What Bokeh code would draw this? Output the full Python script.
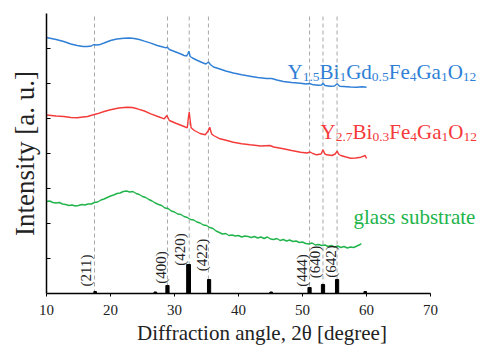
import math
from bokeh.plotting import figure
from bokeh.models import Label, FixedTicker
from bokeh.core.properties import value
from bokeh.embed import file_html
from bokeh.resources import INLINE

# ---------------- data ----------------
blue_x = [10.0, 11.5, 12.7, 13.8, 14.8, 15.7, 16.4, 17.0, 17.4, 17.7, 18.2, 19.0, 20.0, 21.0, 22.1, 23.0,
          23.7, 24.5, 25.3, 26.3, 27.3, 28.2, 28.65, 28.85, 29.2, 30.0, 31.0, 31.5, 31.9, 32.1, 32.25,
          32.45, 32.8, 33.6, 34.3, 34.9, 35.3, 35.6, 36.1, 37.1, 38.0, 39.2, 40.5, 41.8, 43.0, 44.4,
          45.2, 46.0, 47.0, 48.3, 49.7, 50.5, 51.1, 51.7, 52.5, 53.0, 53.2, 53.5, 54.35, 55.0, 55.4,
          55.8, 56.4, 57.5, 58.5, 59.3, 60.0]
blue_y = [256, 254, 252, 249.5, 248, 247, 247, 247.5, 249, 248.5, 248.7, 250.5, 253, 254.5, 255.3, 255.5,
          255, 254, 252.3, 250.3, 248, 246.5, 245.7, 246.5, 244, 242, 239.5, 238, 237.5, 240, 242.3,
          237, 235.5, 233, 231, 229.5, 231.5, 229, 226.5, 224.5, 222.5, 220.5, 218.7, 217.3, 216, 215,
          215, 213.5, 212, 211, 210.3, 209.5, 210, 208.7, 208.2, 208.5, 210.3, 208, 207.3, 207.5, 209.7,
          207.2, 207, 206.5, 206.3, 206.8, 206.3]

red_x = [10.0, 11.5, 12.7, 13.8, 14.8, 15.7, 16.4, 17.2, 17.9, 19.0, 20.0, 21.3, 22.6, 23.4, 24.2, 25.3,
         26.3, 27.4, 28.4, 28.8, 29.2, 30.3, 31.5, 32.0, 32.15, 32.3, 32.45, 32.6, 33.1, 34.0, 34.8,
         35.2, 35.5, 35.8, 36.1, 37.1, 38.2, 39.2, 40.5, 41.8, 43.5, 44.9, 45.5, 47.0, 48.3, 49.7,
         50.7, 51.2, 51.6, 52.2, 52.9, 53.2, 53.5, 53.8, 54.6, 55.1, 55.4, 55.7, 56.0, 56.8, 57.5,
         58.3, 59.1, 59.6, 59.8, 60.0]
red_y = [178.5, 177.5, 177, 176, 175.7, 176.5, 177, 178.5, 179.7, 182, 183.7, 185.5, 186.3, 186, 184.7, 182.5,
         179.7, 177, 174.7, 178, 173, 170, 167, 165.7, 175, 181.3, 173, 165.7, 163, 160, 158.7,
         162, 166.3, 159.5, 158, 154.7, 153, 151.3, 149.7, 148.7, 147.5, 148, 146.5, 144.7, 143, 141.3,
         140.5, 141.5, 140, 138.7, 139.5, 143.7, 139.5, 138.7, 138, 139.5, 142.3, 139, 138, 136.5, 135.3,
         135.5, 136.3, 137.5, 138, 135]

green_x = [10.0, 10.5, 11.0, 11.5, 12.0, 12.5, 13.0, 13.5, 14.0, 14.5, 15.0, 15.5, 16.0, 16.5, 17.0, 17.5,
           18.0, 18.5, 19.0, 19.5, 20.0, 20.5, 21.0, 21.5, 22.0, 22.5, 23.0, 23.5, 24.0, 24.5, 25.0, 25.5,
           26.0, 26.5, 27.0, 27.5, 28.0, 28.5, 29.0, 29.5, 30.0, 30.5, 31.0, 31.5, 32.0, 32.5, 33.0, 33.5,
           34.0, 34.5, 35.0, 35.5, 36.0, 36.5, 37.0, 37.5, 38.0, 38.5, 39.0, 39.5, 40.0, 40.5, 41.0, 41.5,
           42.0, 42.5, 43.0, 43.5, 44.0, 44.5, 45.0, 45.5, 46.0, 46.5, 47.0, 47.5, 48.0, 48.5, 49.0, 49.5,
           50.0, 50.5, 51.0, 51.5, 52.0, 52.5, 53.0, 53.5, 54.0, 54.5, 55.0, 55.5, 56.0, 56.5, 57.0, 57.5,
           58.0, 58.5, 59.0, 59.2]
green_y = [92, 92.5, 91, 90.5, 91, 89.5, 89, 88, 88.5, 87.5, 88, 89, 88.5, 89.5, 89.5, 91,
           91.5, 93.5, 94.5, 96, 97.5, 98.5, 100, 100.5, 102, 102.5, 101.5, 102, 100, 99, 97, 96,
           94, 92.5, 90.5, 89, 88, 85.5, 85, 82.5, 81.5, 79.5, 79, 77, 76, 74, 73.5, 71.5,
           70.5, 68.5, 68, 66, 65, 62.5, 61, 59.5, 60, 58, 58.5, 57.5, 58, 56.5, 57.5, 57,
           56, 57, 55.5, 56.5, 55, 56.5, 54.5, 54, 55, 53, 54, 52.5, 53.5, 52, 52.5, 51,
           51.5, 50, 49.5, 50.5, 48.5, 49, 48, 48.5, 47, 48, 46.5, 47.5, 46, 47, 45.5, 46.5,
           46, 47.5, 49, 50]

peak_lines = [17.5, 28.9, 32.3, 35.3, 51.1, 53.2, 55.4]

bar_x = [17.6, 27.0, 28.9, 32.2, 35.4, 45.1, 51.1, 53.2, 55.4, 59.8]
bar_h = [2, 1.5, 8, 29, 14, 1.5, 6, 9, 14, 2]
bar_w = [0.4, 0.4, 0.5, 0.6, 0.5, 0.4, 0.5, 0.5, 0.5, 0.4]

hkl_text = ["(211)", "(400)", "(420)", "(422)", "(444)", "(640)", "(642)"]
hkl_x = [16.2, 27.9, 30.9, 34.3, 49.9, 52.0, 54.4]
hkl_y = [23, 26, 44, 38.5, 23, 31.5, 32]

x_ticks = [10, 20, 30, 40, 50, 60, 70]
y_ticks = [35, 70, 105, 140, 175, 210, 245]

blue_parts = [("Y", 0), ("1.5", 1), ("Bi", 0), ("1", 1), ("Gd", 0), ("0.5", 1),
              ("Fe", 0), ("4", 1), ("Ga", 0), ("1", 1), ("O", 0), ("12", 1)]
red_parts = [("Y", 0), ("2.7", 1), ("Bi", 0), ("0.3", 1), ("Fe", 0), ("4", 1),
             ("Ga", 0), ("1", 1), ("O", 0), ("12", 1)]
green_label = "glass substrate"

BLUE = "#2f7fd6"
RED = "#f53a3a"
GREEN = "#22b44c"
FONT = "Liberation Serif"

# ---------------- figure ----------------
p = figure(width=477, height=348, x_range=(10, 77.34), y_range=(0, 280),
           output_backend="svg", toolbar_location=None,
           min_border_left=46, min_border_right=0, min_border_top=13, min_border_bottom=55)
p.outline_line_color = None
p.grid.visible = False
p.background_fill_color = "white"

# dashed reference lines
p.segment(x0=peak_lines, y0=[0] * len(peak_lines), x1=peak_lines, y1=[280] * len(peak_lines),
          line_color="#a8a8a8", line_width=1, line_dash="4 3")

# reference bars
p.vbar(x=bar_x, width=bar_w, top=bar_h, bottom=0, color="black")

# curves
p.line(green_x, green_y, line_color=GREEN, line_width=1.4)
p.line(red_x, red_y, line_color=RED, line_width=1.4)
p.line(blue_x, blue_y, line_color=BLUE, line_width=1.4)

# hkl labels
p.text(x=hkl_x, y=hkl_y, text=hkl_text, angle=math.pi / 2,
       text_font=value(FONT), text_font_size="15px", text_color="#222222",
       text_align="center", text_baseline="middle")

# axes
xa = p.xaxis[0]
xa.ticker = FixedTicker(ticks=x_ticks)
xa.bounds = (10, 70)
xa.minor_tick_line_color = None
xa.major_tick_in = 0
xa.major_tick_out = 3
xa.axis_line_width = 1.5
xa.axis_line_color = "black"
xa.major_tick_line_color = "black"
xa.major_label_text_font = FONT
xa.major_label_text_font_size = "15px"
xa.major_label_text_color = "#222222"
xa.major_label_standoff = 8
xa.axis_label = "Diffraction angle, 2θ [degree]"
xa.axis_label_text_font = FONT
xa.axis_label_text_font_size = "21px"
xa.axis_label_text_font_style = "normal"
xa.axis_label_text_color = "#222222"
xa.axis_label_standoff = 3

ya = p.yaxis[0]
ya.ticker = FixedTicker(ticks=y_ticks)
ya.minor_tick_line_color = None
ya.major_tick_in = 4
ya.major_tick_out = 0
ya.axis_line_width = 1.5
ya.axis_line_color = "black"
ya.major_tick_line_color = "black"
ya.major_label_overrides = {t: "" for t in y_ticks}
ya.major_label_standoff = 0
ya.axis_label = "Intensity [a. u.]"
ya.axis_label_text_font = FONT
ya.axis_label_text_font_size = "27px"
ya.axis_label_text_font_style = "normal"
ya.axis_label_text_color = "#222222"
ya.axis_label_standoff = 7

# formula labels
W = {'Y': 0.722, 'B': 0.667, 'i': 0.278, 'G': 0.722, 'd': 0.5, 'F': 0.556,
     'e': 0.444, 'a': 0.444, 'O': 0.722, '.': 0.25}
for dgt in "0123456789":
    W[dgt] = 0.5
M, S = 21, 13.5


def add_formula(parts, x, y, color):
    off = 0.0
    for txt, sub in parts:
        size = S if sub else M
        p.add_layout(Label(x=x, y=y, x_offset=off, y_offset=-5 if sub else 0, text=txt,
                           text_font=FONT, text_font_size=f"{size}px", text_color=color,
                           text_align="left", text_baseline="alphabetic"))
        off += sum(W[c] for c in txt) * size


add_formula(blue_parts, 47.66, 221.3, BLUE)
add_formula(red_parts, 52.81, 161.3, RED)
p.add_layout(Label(x=57.97, y=77, text=green_label, text_font=FONT, text_font_size="21px",
                   text_color=GREEN, text_align="left", text_baseline="alphabetic"))

open("out.html", "w").write(file_html(p, INLINE))
